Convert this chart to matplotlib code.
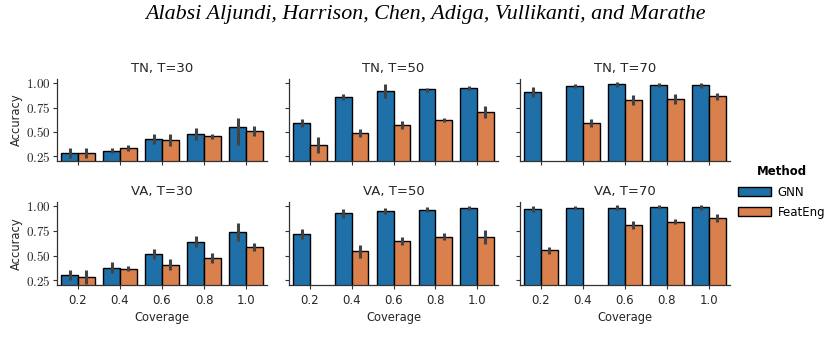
import numpy as np
import matplotlib
matplotlib.use("Agg")
import matplotlib.pyplot as plt
from matplotlib.patches import Patch

plt.rcParams['font.family'] = ['DejaVu Sans']
plt.rcParams['mathtext.fontset'] = 'cm'

nan = np.nan
coverage = ["0.2", "0.4", "0.6", "0.8", "1.0"]
methods = ["GNN", "FeatEng"]
titles = ["TN, T=30", "TN, T=50", "TN, T=70", "VA, T=30", "VA, T=50", "VA, T=70"]
yticks = [0.25, 0.50, 0.75, 1.00]

gnn_mean = [
    [0.284, 0.308, 0.427, 0.482, 0.550],
    [0.591, 0.857, 0.922, 0.939, 0.949],
    [0.911, 0.973, 0.990, 0.983, 0.983],
    [0.298, 0.376, 0.512, 0.642, 0.741],
    [0.717, 0.932, 0.956, 0.966, 0.983],
    [0.973, 0.986, 0.986, 0.993, 0.993],
]
gnn_lo = [
    [0.226, 0.280, 0.376, 0.420, 0.370],
    [0.550, 0.826, 0.853, 0.911, 0.929],
    [0.857, 0.953, 0.966, 0.959, 0.953],
    [0.250, 0.325, 0.460, 0.584, 0.652],
    [0.666, 0.887, 0.925, 0.939, 0.966],
    [0.946, 0.973, 0.959, 0.976, 0.966],
]
gnn_hi = [
    [0.335, 0.335, 0.478, 0.540, 0.640],
    [0.632, 0.891, 0.993, 0.956, 0.969],
    [0.966, 0.990, 1.010, 1.000, 1.007],
    [0.352, 0.430, 0.563, 0.700, 0.830],
    [0.768, 0.976, 0.986, 0.993, 1.000],
    [1.000, 1.000, 1.010, 1.010, 1.014],
]
fe_mean = [
    [0.284, 0.330, 0.414, 0.455, 0.509],
    [0.369, 0.489, 0.570, 0.622, 0.703],
    [nan, 0.594, 0.830, 0.836, 0.867],
    [0.277, 0.359, 0.407, 0.475, 0.587],
    [nan, 0.543, 0.652, 0.693, 0.690],
    [0.553, nan, 0.809, 0.843, 0.881],
]
fe_lo = [
    [0.230, 0.300, 0.352, 0.427, 0.460],
    [0.284, 0.447, 0.530, 0.598, 0.639],
    [nan, 0.553, 0.782, 0.785, 0.829],
    [0.210, 0.339, 0.356, 0.420, 0.550],
    [nan, 0.475, 0.611, 0.656, 0.618],
    [0.519, nan, 0.771, 0.820, 0.846],
]
fe_hi = [
    [0.332, 0.370, 0.478, 0.480, 0.560],
    [0.447, 0.530, 0.615, 0.646, 0.768],
    [nan, 0.635, 0.877, 0.887, 0.904],
    [0.352, 0.393, 0.461, 0.530, 0.632],
    [nan, 0.611, 0.693, 0.731, 0.761],
    [0.587, nan, 0.850, 0.867, 0.918],
]

colors = ["#1F70A9", "#DA804C"]
errc = "#424242"

fig = plt.figure(figsize=(8.34, 3.56), dpi=100)
W, H = 834, 356
cols = [(57, 267), (289, 498), (520, 730)]
rows = [(79, 161), (202, 285)]

fig.text(0.51, 1 - 15 / H, "Alabsi Aljundi, Harrison, Chen, Adiga, Vullikanti, and Marathe",
         ha='center', va='center', family='Liberation Serif', style='italic', fontsize=15.8)

x = np.arange(len(coverage))
bw = 0.4
for i in range(6):
    r, c = divmod(i, 3)
    x0, x1 = cols[c]
    t, b = rows[r]
    ax = fig.add_axes([x0 / W, 1 - b / H, (x1 - x0) / W, (b - t) / H])
    series = [(gnn_mean[i], gnn_lo[i], gnn_hi[i]), (fe_mean[i], fe_lo[i], fe_hi[i])]
    for k, (m, lo, hi) in enumerate(series):
        m = np.array(m); lo = np.array(lo); hi = np.array(hi)
        xs = x - bw / 2 + k * bw
        ok = ~np.isnan(m)
        ax.bar(xs[ok], m[ok], width=bw, color=colors[k], edgecolor='black',
               linewidth=1.0, zorder=2)
        ax.vlines(xs[ok], lo[ok], hi[ok], color=errc, linewidth=2.2, zorder=3)
    ax.set_xlim(-0.5, 4.5)
    ax.set_ylim(0.2, 1.045)
    ax.set_xticks(x)
    ax.set_yticks(yticks)
    for s in ['top', 'right']:
        ax.spines[s].set_visible(False)
    for s in ['left', 'bottom']:
        ax.spines[s].set_color('#333333')
        ax.spines[s].set_linewidth(0.9)
    ax.tick_params(axis='both', colors='#333333', length=3, width=0.8, labelsize=8.5)
    ax.tick_params(axis='x', labelcolor='#262626')
    ax.tick_params(axis='y', labelcolor='#262626', pad=1.5)
    if c == 0:
        ax.set_yticklabels([r'$%.2f$' % v for v in yticks], fontsize=9.5)
        ax.set_ylabel("Accuracy", fontsize=8.3, labelpad=2, color='#262626')
    else:
        ax.set_yticklabels([])
    if r == 1:
        ax.set_xticklabels(coverage)
        ax.set_xlabel("Coverage", fontsize=8.3, labelpad=3, color='#262626')
    else:
        ax.set_xticklabels([])
    ax.set_title(titles[i], fontsize=9.5, pad=5, color='#262626')

handles = [Patch(facecolor=colors[k], edgecolor='black', linewidth=1.0, label=methods[k])
           for k in range(2)]
leg = fig.legend(handles=handles, title="Method", loc='center left',
                 bbox_to_anchor=(727 / W, 1 - 192 / H), frameon=False, fontsize=8.5,
                 handlelength=2.8, handleheight=0.9, handletextpad=0.6, labelspacing=0.6)
leg.get_title().set_fontsize(8.5)
leg.get_title().set_fontweight('bold')

fig.savefig("out.png", dpi=100)
